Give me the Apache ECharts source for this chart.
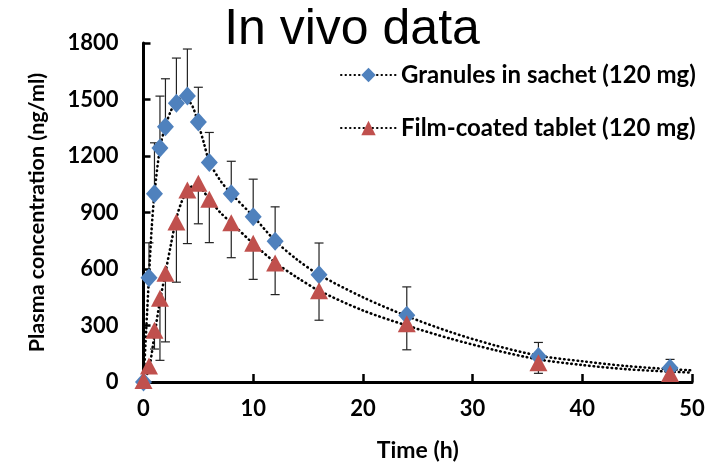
<!DOCTYPE html>
<html>
<head>
<meta charset="utf-8">
<script src="https://cdn.jsdelivr.net/npm/echarts@6/dist/echarts.min.js"></script>
<style>html,body{margin:0;padding:0;background:#fff}#c{width:712px;height:467px}</style>
</head>
<body>
<div id="c"></div>
<script>
// ---- data ----
var times = [0, 0.5, 1, 1.5, 2, 3, 4, 5, 6, 8, 10, 12, 16, 24, 36, 48];
var granulesMean = [0, 554, 1000, 1243, 1355, 1480, 1518, 1380, 1165, 1000, 877, 748, 570, 355, 136, 75];
var granulesErrPlus = [0, 185, 270, 275, 255, 240, 250, 185, 160, 172, 200, 182, 168, 150, 74, 45];
var tabletMean = [8, 85, 275, 445, 578, 850, 1020, 1055, 970, 845, 737, 632, 485, 309, 102, 45];
var tabletErrMinus = [0, 30, 100, 330, 365, 320, 285, 215, 230, 185, 192, 168, 157, 138, 56, 25];

var granulesFitT = [0, 0.25, 0.5, 0.75, 1, 1.5, 2, 2.5, 3, 3.5, 4, 4.5, 5, 5.5, 6, 7, 8, 10, 12, 14, 16, 20, 24, 28, 32, 36, 40, 44, 48, 50];
var granulesFitV = [0, 280, 560, 820, 1000, 1240, 1360, 1440, 1490, 1510, 1500, 1460, 1370, 1270, 1170, 1070, 1000, 880, 750, 650, 570, 450, 350, 265, 195, 140, 110, 85, 68, 62];
var tabletFitT = [0, 0.5, 1, 1.5, 2, 2.5, 3, 3.5, 4, 4.5, 5, 5.5, 6, 7, 8, 10, 12, 14, 16, 20, 24, 28, 32, 36, 40, 44, 48, 50];
var tabletFitV = [0, 70, 250, 430, 580, 730, 870, 960, 1015, 1040, 1040, 1010, 970, 900, 845, 735, 635, 555, 485, 380, 300, 230, 170, 120, 90, 68, 55, 50];

var seriesNames = ['Granules in sachet (120 mg)', 'Film-coated tablet (120 mg)'];
var titleText = 'In vivo data';
var xName = 'Time (h)';
var yName = 'Plasma concentration (ng/ml)';

var BLUE = '#4F81BD', RED = '#C0504D';
function zip(a, b) { return a.map(function (v, i) { return [v, b[i]]; }); }

function errBars(means, errs, sign) {
  return times.map(function (t, i) { return [t, means[i], means[i] + sign * errs[i]]; });
}
function renderErr(params, api) {
  var t = api.value(0), a = api.value(1), b = api.value(2);
  if (a === b) return null;
  var p1 = api.coord([t, a]), p2 = api.coord([t, b]);
  var cw = 4.5;
  var st = { stroke: '#222', lineWidth: 1.2 };
  return { type: 'group', children: [
    { type: 'line', shape: { x1: p1[0], y1: p1[1], x2: p2[0], y2: p2[1] }, style: st },
    { type: 'line', shape: { x1: p2[0] - cw, y1: p2[1], x2: p2[0] + cw, y2: p2[1] }, style: st }
  ]};
}

var dotted = { color: '#000', width: 2.6, type: [0.5, 4], cap: 'round' };
var FONT = 'Lato';

var chart = echarts.init(document.getElementById('c'), null, { renderer: 'canvas' });
chart.setOption({
  animation: false,
  backgroundColor: '#fff',
  title: { text: titleText, left: 347, textAlign: 'center', top: 0,
    textStyle: { fontFamily: 'Liberation Sans', fontWeight: 'normal', fontSize: 50, color: '#000' } },
  legend: { orient: 'vertical', left: 335, top: 58, itemWidth: 55, itemHeight: 18, itemGap: 29,
    data: seriesNames,
    textStyle: { fontFamily: FONT, fontWeight: 'bold', fontSize: 24, color: '#000' } },
  grid: { left: 143.5, right: 20, top: 43, bottom: 84 },
  xAxis: { type: 'value', min: 0, max: 50, interval: 10,
    name: xName, nameLocation: 'middle', nameGap: 57,
    nameTextStyle: { fontFamily: FONT, fontWeight: 'bold', fontSize: 23, color: '#000' },
    axisLine: { lineStyle: { color: '#000', width: 3 } },
    axisTick: { inside: true, length: 8, lineStyle: { color: '#000', width: 2.5 } },
    axisLabel: { margin: 16, fontFamily: FONT, fontWeight: 'bold', fontSize: 22, color: '#000' },
    splitLine: { show: false } },
  yAxis: { type: 'value', min: 0, max: 1800, interval: 300,
    name: yName, nameLocation: 'middle', nameGap: 95,
    nameTextStyle: { fontFamily: FONT, fontWeight: 'bold', fontSize: 21.5, color: '#000' },
    axisLine: { show: true, lineStyle: { color: '#000', width: 3 } },
    axisTick: { show: true, inside: true, length: 7, lineStyle: { color: '#000', width: 2.5 } },
    axisLabel: { margin: 25, fontFamily: FONT, fontWeight: 'bold', fontSize: 22, color: '#000',
      formatter: function (v) { return String(v); } },
    splitLine: { show: false } },
  series: [
    { name: seriesNames[0], type: 'line', data: zip(granulesFitT, granulesFitV), smooth: 0.3,
      symbol: 'diamond', showSymbol: false, itemStyle: { color: BLUE }, lineStyle: dotted, z: 3, clip: false },
    { name: seriesNames[1], type: 'line', data: zip(tabletFitT, tabletFitV), smooth: 0.3,
      symbol: 'triangle', showSymbol: false, itemStyle: { color: RED }, lineStyle: dotted, z: 3, clip: false },
    { name: seriesNames[0], type: 'custom', data: errBars(granulesMean, granulesErrPlus, 1), renderItem: renderErr, z: 2, clip: false },
    { name: seriesNames[1], type: 'custom', data: errBars(tabletMean, tabletErrMinus, -1), renderItem: renderErr, z: 2, clip: false },
    { name: seriesNames[0], type: 'scatter', data: zip(times, granulesMean), symbol: 'diamond', symbolSize: [17, 19],
      itemStyle: { color: BLUE, opacity: 1 }, z: 4, clip: false },
    { name: seriesNames[1], type: 'scatter', data: zip(times, tabletMean), symbol: 'triangle', symbolSize: [18, 17],
      itemStyle: { color: RED, opacity: 1 }, z: 5, clip: false }
  ]
});
</script>
</body>
</html>
